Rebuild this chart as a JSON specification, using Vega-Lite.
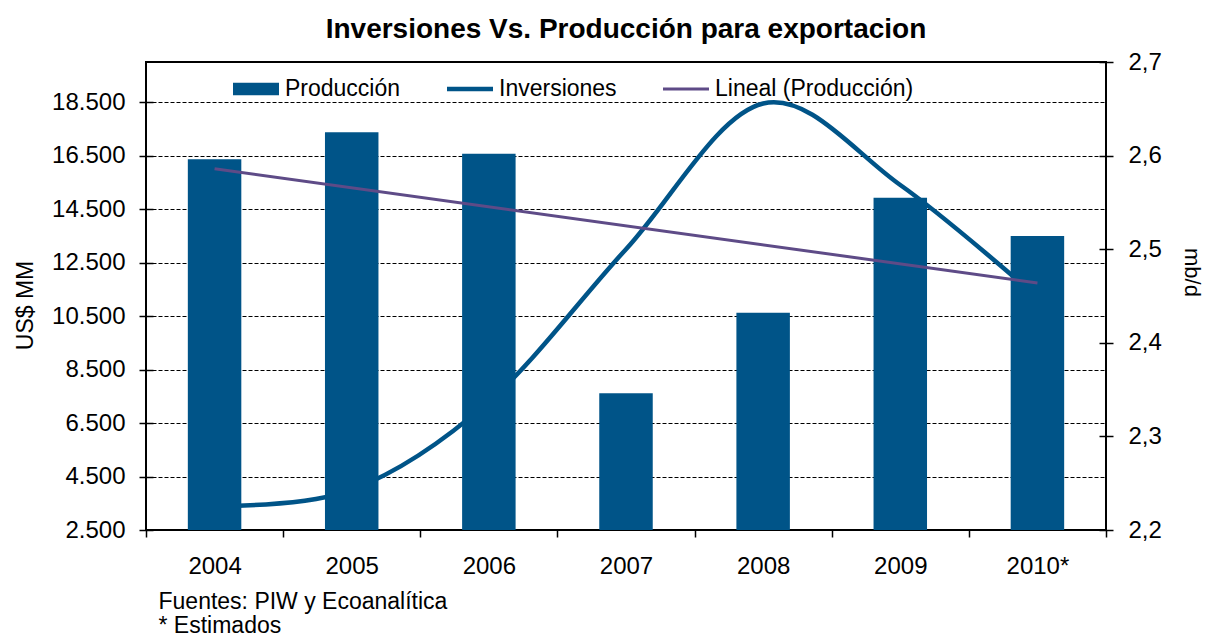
{
  "$schema": "https://vega.github.io/schema/vega-lite/v6.json",
  "width": 960,
  "height": 468,
  "autosize": {"type": "none"},
  "padding": {"left": 146, "top": 62, "right": 99, "bottom": 105},
  "background": "white",
  "title": {
    "text": "Inversiones Vs. Producción para exportacion",
    "fontSize": 28,
    "fontWeight": "bold",
    "font": "Liberation Sans",
    "color": "black",
    "anchor": "middle",
    "frame": "group",
    "baseline": "alphabetic",
    "offset": 25,
    "dy": 41
  },
  "config": {
    "view": {"stroke": "black", "strokeWidth": 2},
    "font": "Liberation Sans",
    "axis": {
      "labelFont": "Liberation Sans",
      "labelColor": "black",
      "titleColor": "black",
      "titleFont": "Liberation Sans",
      "titleFontWeight": "normal",
      "tickColor": "black",
      "tickWidth": 1.5,
      "domain": false
    }
  },
  "data": {
    "values": [
      {"year": "2004", "prod": 2.596, "inv": 3400, "trend": 2.586},
      {"year": "2005", "prod": 2.625, "inv": 4000},
      {"year": "2006", "prod": 2.602, "inv": 7300},
      {"year": "2007", "prod": 2.346, "inv": 13000},
      {"year": "2008", "prod": 2.432, "inv": 18450},
      {"year": "2009", "prod": 2.555, "inv": 15400},
      {"year": "2010*", "prod": 2.514, "inv": 11200, "trend": 2.464}
    ]
  },
  "layer": [
    {
      "mark": {"type": "line", "interpolate": "cardinal", "strokeWidth": 4.5, "strokeCap": "round"},
      "encoding": {
        "x": {
          "field": "year",
          "type": "ordinal",
          "sort": null,
          "scale": {"paddingInner": 0, "paddingOuter": 0},
          "axis": {
            "title": ["Fuentes: PIW y Ecoanalítica", "* Estimados"],
            "titleFontSize": 23,
            "titleFontWeight": "normal",
            "titleAlign": "left",
            "titleAnchor": "start",
            "titleX": 12,
            "titleY": 78,
            "titleBaseline": "alphabetic",
            "titleLineHeight": 24,
            "labelAngle": 0,
            "labelFontSize": 24,
            "tickSize": 7,
            "tickBand": "extent",
            "labelPadding": 17,
            "grid": false
          }
        },
        "y": {
          "field": "inv",
          "type": "quantitative",
          "scale": {"domain": [2500, 20000], "nice": false, "zero": false},
          "axis": {
            "orient": "left",
            "title": "US$ MM",
            "titleFontSize": 23,
            "titlePadding": 14,
            "titleY": 243,
            "values": [2500, 4500, 6500, 8500, 10500, 12500, 14500, 16500, 18500],
            "labelExpr": "replace(format(datum.value, ','), ',', '.')",
            "labelFontSize": 24,
            "labelPadding": 14,
            "tickSize": 14,
            "offset": -7,
            "grid": true,
            "gridColor": "black",
            "gridDash": [4, 2],
            "gridWidth": 1,
            "gridOpacity": 1
          }
        },
        "color": {
          "datum": "Inversiones",
          "type": "nominal",
          "scale": {
            "domain": ["Producción", "Inversiones", "Lineal (Producción)"],
            "range": ["#005488", "#005488", "#5E4B87"]
          },
          "legend": {
            "title": null,
            "orient": "none",
            "direction": "horizontal",
            "legendX": 87,
            "legendY": 4,
            "labelFontSize": 23,
            "labelFont": "Liberation Sans",
            "labelColor": "black",
            "labelLimit": 400,
            "symbolSize": 2116,
            "symbolStrokeWidth": 0,
            "columnPadding": 46,
            "labelOffset": 6,
            "encode": {
              "symbols": {
                "update": {
                  "shape": {"signal": "datum.value === 'Producción' ? 'M-1,-0.27L1,-0.27L1,0.27L-1,0.27Z' : (datum.value === 'Inversiones' ? 'M-1,-0.1L1,-0.1L1,0.1L-1,0.1Z' : 'M-1,-0.065L1,-0.065L1,0.065L-1,0.065Z')"},
                  "fill": {"signal": "datum.value === 'Lineal (Producción)' ? '#5E4B87' : '#005488'"},
                  "stroke": {"value": "transparent"},
                  "opacity": {"value": 1},
                  "fillOpacity": {"value": 1}
                }
              }
            }
          }
        }
      }
    },
    {
      "mark": {"type": "bar", "width": {"band": 0.39}},
      "encoding": {
        "x": {"field": "year", "type": "ordinal", "sort": null},
        "y": {
          "field": "prod",
          "type": "quantitative",
          "scale": {"domain": [2.2, 2.7], "nice": false, "zero": false},
          "axis": {
            "orient": "right",
            "title": "mb/d",
            "titleFontSize": 22,
            "titlePadding": 18,
            "titleY": 210,
            "values": [2.2, 2.3, 2.4, 2.5, 2.6, 2.7],
            "labelExpr": "replace(format(datum.value, '.1f'), '.', ',')",
            "labelFontSize": 24,
            "labelPadding": 15,
            "tickSize": 14,
            "offset": -7,
            "grid": false
          }
        },
        "y2": {"datum": 2.2},
        "color": {"datum": "Producción", "type": "nominal"}
      }
    },
    {
      "transform": [{"filter": "isValid(datum.trend)"}],
      "mark": {"type": "line", "strokeWidth": 3},
      "encoding": {
        "x": {"field": "year", "type": "ordinal", "sort": null},
        "y": {
          "field": "trend",
          "type": "quantitative",
          "scale": {"domain": [2.2, 2.7], "nice": false, "zero": false},
          "axis": null
        },
        "color": {"datum": "Lineal (Producción)", "type": "nominal"}
      }
    }
  ],
  "resolve": {"scale": {"y": "independent"}}
}
